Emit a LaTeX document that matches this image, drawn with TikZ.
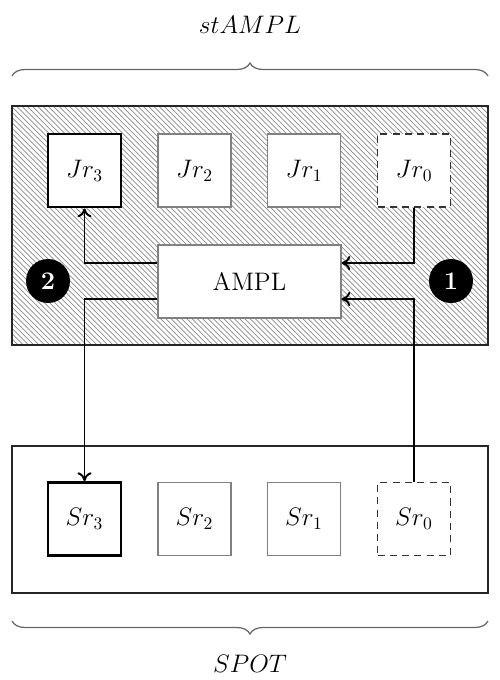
\documentclass[tikz,border=0pt]{standalone}
\usetikzlibrary{patterns,decorations.pathreplacing,arrows.meta}
\begin{document}
\begin{tikzpicture}[x=0.02cm,y=-0.02cm,
  txt/.style={font=\fontsize{14.4}{17}\selectfont},
  outer/.style={draw=black!85,line width=1.1pt,minimum width=9.52cm,inner sep=0pt},
  rbox/.style={txt,draw=black!50,line width=0.6pt,fill=white,minimum width=1.46cm,minimum height=1.46cm,inner sep=0pt},
  thickbox/.style={rbox,draw=black,line width=1.6pt},
  dashbox/.style={rbox,draw=black!80,line width=1pt,dash pattern=on 4pt off 3pt},
  num/.style={circle,fill=black,text=white,minimum size=0.88cm,inner sep=0pt,font=\fontsize{14.4}{17}\selectfont\bfseries},
  arr/.style={line width=1.1pt,-{To[length=5pt,width=8pt,line width=1.1pt]}},
  brc/.style={draw=black!60,line width=0.7pt,decorate,decoration={brace,amplitude=0.26cm}}
]
\useasboundingbox (0,0) rectangle (500,680);
% outer boxes
\node[outer,minimum height=4.78cm,pattern=north west lines,pattern color=black!45] (top) at (250,225.5) {};
\node[outer,minimum height=2.94cm] (bot) at (250,519.5) {};
% braces
\coordinate (tbl) at (12,76);
\coordinate (tbr) at (488,76);
\draw[brc] (tbl) -- (tbr);
\node[txt] (stampl) at (250,25) {$stAMPL$};
\coordinate (bbl) at (12,621);
\coordinate (bbr) at (488,621);
\draw[brc] (bbr) -- (bbl);
\node[txt] (spot) at (250,664) {$SPOT$};
% J row
\node[thickbox] (J3) at (84.5,170.5) {$Jr_3$};
\node[rbox] (J2) at (194.5,170.5) {$Jr_2$};
\node[rbox] (J1) at (304,170.5) {$Jr_1$};
\node[dashbox] (J0) at (414,170.5) {$Jr_0$};
% AMPL
\node[rbox,minimum width=3.66cm] (ampl) at (249.5,281.5) {AMPL};
% S row
\node[thickbox] (S3) at (84.5,519) {$Sr_3$};
\node[rbox] (S2) at (194.5,519) {$Sr_2$};
\node[rbox] (S1) at (304,519) {$Sr_1$};
\node[dashbox] (S0) at (414,519) {$Sr_0$};
% numbers
\node[num] (n2) at (48,281) {2};
\node[num] (n1) at (451,281) {1};
% arrows
\draw[arr] ([yshift=0.37cm]ampl.west) -| (J3.south);
\draw[arr] ([yshift=-0.35cm]ampl.west) -| (S3.north);
\draw[arr] (J0.south) |- ([yshift=0.37cm]ampl.east);
\draw[arr] (S0.north) |- ([yshift=-0.35cm]ampl.east);
\end{tikzpicture}
\end{document}
